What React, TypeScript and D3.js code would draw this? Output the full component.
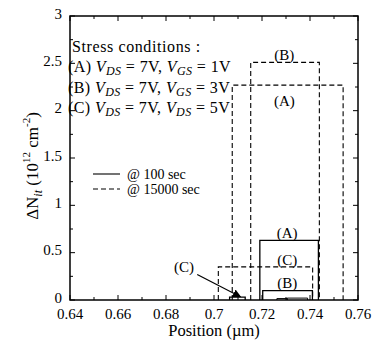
import React from 'react';
import * as d3 from 'd3';

// step profiles: [start, end, height] in (µm, 1e12 cm^-2), order A, B, C
const profile100 = [
  [0.7191, 0.7435, 0.63],
  [0.7203, 0.741, 0.1],
  [0.7065, 0.713, 0.03],
];
const profile15000 = [
  [0.7076, 0.7538, 2.27],
  [0.7153, 0.7439, 2.51],
  [0.7018, 0.7411, 0.35],
];
const smallBumps = [
  [0.7262, 0.7305, 0.015],
  [0.7305, 0.739, 0.02],
];

const xTicks = [0.64, 0.66, 0.68, 0.7, 0.72, 0.74, 0.76];
const xTickLabels = ['0.64', '0.66', '0.68', '0.7', '0.72', '0.74', '0.76'];
const yTicks = [0, 0.5, 1, 1.5, 2, 2.5, 3];
const yTickLabels = ['0', '0.5', '1', '1.5', '2', '2.5', '3'];

// annotation labels (data coords of text centre)
const annotations = [
  { text: '(B)', x: 0.7293, y: 2.59 },
  { text: '(A)', x: 0.7293, y: 2.1 },
  { text: '(A)', x: 0.7305, y: 0.71 },
  { text: '(C)', x: 0.7305, y: 0.42 },
  { text: '(B)', x: 0.7305, y: 0.18 },
  { text: '(C)', x: 0.6875, y: 0.35 },
];
const arrowFrom = [0.693, 0.27];
const arrowTo = [0.711, 0.035];

const conditions = [
  { label: '(A) ', s1: 'DS', v1: '7V', s2: 'GS', v2: '1V' },
  { label: '(B) ', s1: 'DS', v1: '7V', s2: 'GS', v2: '3V' },
  { label: '(C) ', s1: 'DS', v1: '7V', s2: 'DS', v2: '5V' },
];

const W = 372;
const H = 340;
const FONT = "'Liberation Serif', 'DejaVu Serif', serif";

export default function App() {
  const x = d3.scaleLinear().domain([0.64, 0.76]).range([70, 358]);
  const y = d3.scaleLinear().domain([0, 3]).range([300, 16]);

  const stepPath = (r: number[]) =>
    `M${x(r[0])},${y(0)}V${y(r[2])}H${x(r[1])}V${y(0)}`;

  const minorY = d3.range(0, 3.01, 0.25);
  const minorX = d3.range(0.64, 0.7601, 0.01);
  const ts = { fontFamily: FONT };

  return (
    <div style={{ position: 'absolute', left: 0, top: 0 }}>
      <svg width={W} height={H} style={{ display: 'block', background: '#fff', fontFamily: FONT }}>
        <defs>
          <marker id="arr" viewBox="0 0 10 10" refX="9" refY="5" markerWidth="7" markerHeight="7" orient="auto">
            <path d="M0,0L10,5L0,10z" fill="#000" />
          </marker>
        </defs>

        {/* data */}
        {profile15000.map((r, i) => (
          <path key={'d' + i} d={stepPath(r)} fill="none" stroke="#000" strokeWidth={1.1} strokeDasharray="5,3" />
        ))}
        {profile100.map((r, i) => (
          <path key={'s' + i} d={stepPath(r)} fill="none" stroke="#000" strokeWidth={1.3} />
        ))}
        {smallBumps.map((r, i) => (
          <path key={'b' + i} d={stepPath(r)} fill="none" stroke="#000" strokeWidth={1} />
        ))}

        {/* frame */}
        <rect x={x(0.64)} y={y(3)} width={x(0.76) - x(0.64)} height={y(0) - y(3)} fill="none" stroke="#000" strokeWidth={1.5} />

        {/* ticks */}
        {minorY.map((v, i) => {
          const len = i % 2 === 0 ? 5 : 3;
          return (
            <g key={'yt' + i}>
              <line x1={x(0.64)} x2={x(0.64) + len} y1={y(v)} y2={y(v)} stroke="#000" />
              <line x1={x(0.76)} x2={x(0.76) - len} y1={y(v)} y2={y(v)} stroke="#000" />
            </g>
          );
        })}
        {minorX.map((v, i) => {
          const len = i % 2 === 0 ? 5 : 3;
          return (
            <g key={'xt' + i}>
              <line x1={x(v)} x2={x(v)} y1={y(0)} y2={y(0) - len} stroke="#000" />
              <line x1={x(v)} x2={x(v)} y1={y(3)} y2={y(3) + len} stroke="#000" />
            </g>
          );
        })}

        {/* tick labels */}
        {yTicks.map((v, i) => (
          <text key={'yl' + i} style={ts} x={x(0.64) - 8} y={y(v) + 2.5} textAnchor="end" fontSize={15}>
            {yTickLabels[i]}
          </text>
        ))}
        {xTicks.map((v, i) => (
          <text key={'xl' + i} style={ts} x={x(v)} y={y(0) + 18.5} textAnchor="middle" fontSize={15}>
            {xTickLabels[i]}
          </text>
        ))}

        {/* axis titles */}
        <text style={ts} x={214} y={336} textAnchor="middle" fontSize={16.5}>Position (µm)</text>
        <text style={ts} transform="translate(38,166) rotate(-90)" textAnchor="middle" fontSize={17}>
          ΔN<tspan fontStyle="italic" fontSize={12} dy={4}>it</tspan>
          <tspan dy={-4}> (10</tspan>
          <tspan fontSize={11} dy={-8}>12</tspan>
          <tspan dy={8}> cm</tspan>
          <tspan fontSize={11} dy={-8}>-2</tspan>
          <tspan dy={8}>)</tspan>
        </text>

        {/* stress condition text */}
        <text style={ts} x={72} y={52} fontSize={16} letterSpacing={0.6}>Stress conditions :</text>
        {conditions.map((c, i) => (
          <text key={'c' + i} style={ts} x={68} y={72 + i * 20.5} fontSize={16} letterSpacing={0.4}>
            {c.label}
            <tspan fontStyle="italic">V</tspan>
            <tspan fontStyle="italic" fontSize={12} dy={3}>{c.s1}</tspan>
            <tspan dy={-3}>{' = ' + c.v1 + ', '}</tspan>
            <tspan fontStyle="italic">V</tspan>
            <tspan fontStyle="italic" fontSize={12} dy={3}>{c.s2}</tspan>
            <tspan dy={-3}>{' = ' + c.v2}</tspan>
          </text>
        ))}

        {/* time legend */}
        <line x1={93} x2={120} y1={174} y2={174} stroke="#000" strokeWidth={1.1} />
        <line x1={93} x2={120} y1={189} y2={189} stroke="#000" strokeWidth={1.1} strokeDasharray="5,3" />
        <text style={ts} x={127} y={179} fontSize={14}>@ 100 sec</text>
        <text style={ts} x={127} y={194} fontSize={14}>@ 15000 sec</text>

        {/* annotations */}
        {annotations.map((a, i) => (
          <text key={'a' + i} style={ts} x={x(a.x)} y={y(a.y) + 5} textAnchor="middle" fontSize={15}>
            {a.text}
          </text>
        ))}
        <line
          x1={x(arrowFrom[0])} y1={y(arrowFrom[1])}
          x2={x(arrowTo[0])} y2={y(arrowTo[1])}
          stroke="#000" strokeWidth={1.2} markerEnd="url(#arr)"
        />
      </svg>
    </div>
  );
}
